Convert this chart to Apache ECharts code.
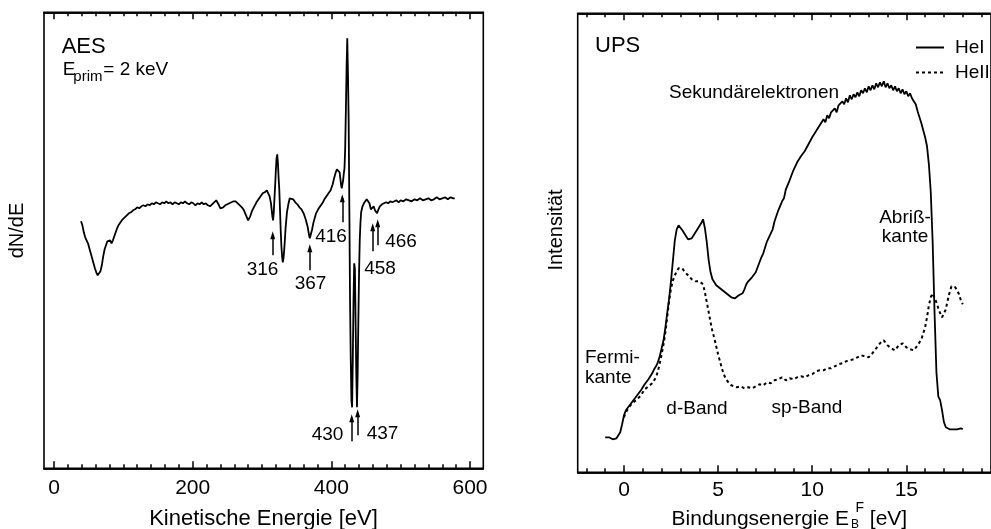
<!DOCTYPE html>
<html><head><meta charset="utf-8">
<script src="https://cdn.jsdelivr.net/npm/echarts@6/dist/echarts.min.js"></script>
<style>html,body{margin:0;padding:0;background:#fff}#c{width:991px;height:529px}</style>
</head><body><div id="c"></div>
<script>
// ---------- data ----------
// AES: [kinetic energy eV, dN/dE (arb. units)]
const aesSpectrum = [[39,247],[41,243],[43,236],[45,231],[47,229],[49,225],[51,220],[53,215],[55,210],[57,205],[59,200],[61,196],[63,193],[65,193],[67,197],[69,203],[71,212],[73,219],[75,223],[77,227],[79,229],[81,228],[83,225],[85,228],[87,232],[89,236],[91,240],[93,243],[96,246],[99,249],[102,251],[105,253],[108,255],[111,256],[114,258],[117,259],[120,261],[123,260],[126,262],[129,263],[132,262],[135,264],[138,263],[141,265],[144,264],[147,266],[150,265],[153,264],[156,266],[159,265],[162,267],[165,265],[168,266],[171,264],[174,266],[177,265],[180,264],[183,266],[186,265],[189,267],[192,265],[195,264],[198,266],[201,265],[204,263],[207,265],[210,264],[213,266],[216,264],[219,265],[222,263],[225,262],[228,264],[231,266],[234,268],[236,267],[238,263],[240,260],[242,258],[244,261],[247,263],[250,264],[253,265],[256,266],[259,267],[262,267],[265,265],[268,263],[271,261],[274,258],[277,253],[280,248],[283,252],[286,258],[289,262],[292,266],[295,269],[298,272],[301,275],[304,276],[307,278],[309,276],[311,272],[313,265],[315,252],[316,248],[317,256],[318,270],[319,283],[320,298],[321,310],[322,314],[323,305],[324,290],[325,278],[326,258],[327,238],[328,222],[329,212],[330,206],[331,210],[332,218],[333,228],[334,240],[336,256],[338,264],[340,270],[342,270],[345,269],[348,266],[351,264],[354,261],[357,259],[360,255],[363,249],[366,241],[368,233],[369,230],[370,232],[372,238],[374,245],[376,250],[378,255],[381,259],[384,262],[387,265],[390,269],[393,272],[396,275],[399,278],[402,284],[404,290],[406,295],[408,299],[410,301],[412,296],[413,290],[414,284],[415,280],[416,282],[417,288],[418,295],[419,300],[420,320],[421,358],[422,400],[423,430],[424,395],[425,348],[426,260],[427,168],[428,110],[429,68],[430,61],[431,110],[432,168],[433,205],[434,200],[435,148],[436,95],[437,61],[438,95],[439,148],[440,195],[441,228],[442,245],[443,256],[445,262],[447,265],[449,267],[451,269],[453,270],[455,265],[457,259],[458,257],[459,259],[461,262],[463,258],[465,256],[466,255],[468,259],[470,262],[473,264],[476,265],[479,266],[482,265],[485,267],[488,266],[491,267],[494,268],[497,266],[500,268],[504,267],[508,269],[512,268],[516,267],[520,269],[524,268],[528,270],[532,268],[536,269],[540,270],[544,268],[548,269],[552,271],[556,269],[560,270],[564,271],[568,269],[572,271],[576,270],[578,270]];

// UPS HeI: [binding energy eV, intensity]
const upsHeI = [[-1.0,35],[-0.9,34],[-0.8,35],[-0.7,34],[-0.6,33],[-0.5,34],[-0.4,34],[-0.3,36],[-0.2,40],[-0.1,48],[0.0,57],[0.1,62],[0.2,64],[0.3,67],[0.4,69],[0.5,72],[0.6,74],[0.7,77],[0.8,79],[0.9,82],[1.0,85],[1.1,88],[1.2,90],[1.3,93],[1.4,96],[1.5,99],[1.6,103],[1.7,106],[1.8,110],[1.9,116],[2.0,124],[2.1,132],[2.2,145],[2.3,160],[2.4,174],[2.5,192],[2.6,212],[2.7,232],[2.8,243],[2.9,247],[3.0,245],[3.1,242],[3.2,239],[3.3,236],[3.4,233],[3.5,231],[3.6,234],[3.7,237],[3.8,240],[3.9,243],[4.0,246],[4.1,249],[4.2,253],[4.3,244],[4.4,230],[4.5,212],[4.6,200],[4.7,193],[4.8,190],[4.9,187],[5.0,186],[5.1,184],[5.2,182],[5.3,181],[5.4,180],[5.5,178],[5.6,177],[5.7,175],[5.8,176],[5.9,174],[6.0,176],[6.1,177],[6.2,176],[6.3,179],[6.4,183],[6.5,188],[6.6,191],[6.7,193],[6.8,195],[6.9,197],[7.0,200],[7.1,205],[7.2,210],[7.3,215],[7.4,219],[7.5,225],[7.6,231],[7.7,233],[7.8,239],[7.9,243],[8.0,251],[8.1,253],[8.2,262],[8.3,264],[8.4,271],[8.5,274],[8.6,283],[8.7,282],[8.8,292],[8.9,293],[9.0,302],[9.1,300],[9.2,310],[9.3,309],[9.4,316],[9.5,314],[9.6,321],[9.7,319],[9.8,328],[9.9,329],[10.0,335],[10.1,334],[10.2,341],[10.3,340],[10.4,347],[10.5,346],[10.6,353],[10.7,350],[10.8,357],[10.9,354],[11.0,360],[11.1,358],[11.2,364],[11.3,360],[11.4,367],[11.5,365],[11.6,371],[11.7,368],[11.8,374],[11.9,370],[12.0,377],[12.1,373],[12.2,378],[12.3,375],[12.4,380],[12.5,376],[12.6,382],[12.7,379],[12.8,384],[12.9,380],[13.0,386],[13.1,382],[13.2,387],[13.3,383],[13.4,389],[13.5,385],[13.6,390],[13.7,386],[13.8,391],[13.9,385],[14.0,389],[14.1,384],[14.2,387],[14.3,382],[14.4,386],[14.5,381],[14.6,384],[14.7,379],[14.8,383],[14.9,378],[15.0,381],[15.1,376],[15.2,379],[15.3,374],[15.4,376],[15.5,368],[15.6,361],[15.7,355],[15.8,349],[15.9,342],[16.0,335],[16.1,326],[16.2,308],[16.3,280],[16.4,230],[16.5,160],[16.6,100],[16.7,76],[16.8,72],[16.9,62],[17.0,50],[17.1,45],[17.2,44],[17.3,43],[17.4,44],[17.5,43],[17.6,44],[17.7,43],[17.8,43],[17.9,44],[18.0,43]];

// UPS HeII: [binding energy eV, intensity]
const upsHeII = [[0.0,55],[0.1,60],[0.2,63],[0.3,66],[0.4,68],[0.5,70],[0.6,72],[0.7,73],[0.8,74],[0.9,77],[1.0,80],[1.1,83],[1.2,85],[1.3,86],[1.4,88],[1.5,89],[1.6,91],[1.7,95],[1.8,101],[1.9,109],[2.0,118],[2.1,128],[2.2,140],[2.3,156],[2.4,172],[2.5,184],[2.6,192],[2.7,197],[2.8,201],[2.9,204],[3.0,205],[3.1,204],[3.2,201],[3.3,199],[3.4,197],[3.5,195],[3.6,193],[3.7,192],[3.8,191],[3.9,190],[4.0,191],[4.1,193],[4.2,188],[4.3,180],[4.4,170],[4.5,160],[4.6,150],[4.7,141],[4.8,134],[4.9,126],[5.0,118],[5.1,111],[5.2,104],[5.3,98],[5.4,94],[5.5,91],[5.6,89],[5.7,87],[5.8,86],[6.0,85],[6.2,86],[6.4,84],[6.6,85],[6.8,84],[7.0,86],[7.2,88],[7.4,87],[7.6,90],[7.8,89],[8.0,92],[8.2,93],[8.4,95],[8.6,92],[8.8,94],[9.0,93],[9.2,95],[9.4,96],[9.6,95],[9.8,97],[10.0,98],[10.2,101],[10.4,102],[10.6,102],[10.8,104],[11.0,104],[11.2,106],[11.4,108],[11.6,109],[11.8,111],[12.0,112],[12.2,113],[12.4,115],[12.6,117],[12.8,116],[13.0,115],[13.2,119],[13.4,124],[13.6,129],[13.8,132],[14.0,127],[14.2,124],[14.4,122],[14.6,127],[14.8,129],[15.0,125],[15.2,123],[15.4,122],[15.6,127],[15.8,133],[16.0,145],[16.1,155],[16.2,167],[16.3,175],[16.4,179],[16.5,177],[16.6,170],[16.7,164],[16.8,159],[16.9,155],[17.0,157],[17.1,163],[17.2,172],[17.3,180],[17.4,186],[17.5,187],[17.6,185],[17.7,182],[17.8,178],[17.9,172],[18.0,168]];

// AES peak markers: energy, arrow from/to (signal units), label
const aesPeakEnergy = [315.5, 369, 415.8, 459.7, 466.9, 429.4, 438];
const aesPeakLabel  = ['316','367','416','458','466','430','437'];
const aesArrowFrom  = [213, 198, 246, 217, 223, 27, 33];
const aesArrowTo    = [233, 220, 270, 241, 245, 50, 55];

// tick values
const aesMajorTicks = [0, 200, 400, 600];
const aesMinorTicks = [0,20,40,60,80,100,120,140,160,180,200,220,240,260,280,300,320,340,360,380,400,420,440,460,480,500,520,540,560,580,600];
const upsMajorTicks = [0, 5, 10, 15];
const upsMinorTicks = [-2,-1,0,1,2,3,4,5,6,7,8,9,10,11,12,13,14,15,16,17,18,19];
const seriesNames = ['HeI', 'HeII'];

// ---------- chart ----------
const FONT = '"Liberation Sans", Arial, Helvetica, sans-serif';
const chart = echarts.init(document.getElementById('c'), null, {renderer: 'canvas'});

const AES_MIN = -14.4, AES_MAX = 619.2;
const UPS_MIN = -2.46, UPS_MAX = 19.5;

function mkX(grid, min, max, vals, len, labelMargin, pos) {
  return {
    type: 'value', gridIndex: grid, min: min, max: max, position: pos,
    axisLine: {show: true, onZero: false, lineStyle: {color: '#000', width: 1.6}},
    splitLine: {show: false},
    axisTick: {show: true, inside: true, length: len, customValues: vals, lineStyle: {color: '#000', width: 1.5}},
    axisLabel: {show: !!labelMargin, customValues: vals, color: '#000', fontSize: 21, fontFamily: FONT,
                verticalAlign: 'middle', margin: labelMargin || 8}
  };
}

function T(x, y, text, size, align, rot) {
  const el = {type: 'text', x: x, y: y, silent: true,
    style: {text: text, fill: '#000', fontSize: size, fontFamily: FONT,
            align: align || 'left', textAlign: align || 'left',
            verticalAlign: 'middle', textVerticalAlign: 'middle'}};
  if (rot) el.rotation = rot;
  return el;
}

const labelPos = [[262.5,270],[310.5,284],[331,236.5],[380,269],[401,241.5],[327.5,434.5],[382.5,433.5]];

const graphics = [
  T(61.7, 46.5, 'AES', 22),
  T(62.7, 70, 'E', 19),
  T(73.3, 76.6, 'prim', 15),
  T(103.3, 70, '= 2 keV', 19),
  T(17.5, 230.5, 'dN/dE', 20, 'center', Math.PI / 2),
  T(263.5, 519, 'Kinetische Energie [eV]', 22, 'center'),
  T(595, 45.8, 'UPS', 22),
  T(754, 92.5, 'Sekundärelektronen', 19, 'center'),
  T(905, 217.5, 'Abriß-', 19, 'center'),
  T(905, 236.7, 'kante', 19, 'center'),
  T(585, 357.5, 'Fermi-', 19),
  T(585, 377.5, 'kante', 19),
  T(697, 409, 'd-Band', 19, 'center'),
  T(807, 407.5, 'sp-Band', 19, 'center'),
  T(556.7, 230, 'Intensität', 20, 'center', Math.PI / 2),
  T(849, 519, 'Bindungsenergie E', 21, 'right'),
  T(851, 524.5, 'B', 12),
  T(855.5, 508.5, 'F', 14),
  T(864, 519, ' [eV]', 21)
];
aesPeakLabel.forEach((t, i) => graphics.push(T(labelPos[i][0], labelPos[i][1], t, 19, 'center')));

const option = {
  animation: false,
  backgroundColor: '#fff',
  textStyle: {fontFamily: FONT, color: '#000'},
  grid: [
    {left: 44, top: 12.3, width: 439.3, height: 456, show: true, borderColor: '#000', borderWidth: 1.6, backgroundColor: 'transparent'},
    {left: 577.7, top: 13.3, width: 425.1, height: 459, show: true, borderColor: '#000', borderWidth: 1.6, backgroundColor: 'transparent'}
  ],
  xAxis: [
    mkX(0, AES_MIN, AES_MAX, aesMajorTicks, 7, 19.5, 'bottom'),
    mkX(0, AES_MIN, AES_MAX, aesMinorTicks, 4, 0, 'bottom'),
    mkX(0, AES_MIN, AES_MAX, aesMajorTicks, 7, 0, 'top'),
    mkX(0, AES_MIN, AES_MAX, aesMinorTicks, 4, 0, 'top'),
    mkX(1, UPS_MIN, UPS_MAX, upsMajorTicks, 7, 18, 'bottom'),
    mkX(1, UPS_MIN, UPS_MAX, upsMinorTicks, 4, 0, 'bottom'),
    mkX(1, UPS_MIN, UPS_MAX, upsMajorTicks, 7, 0, 'top'),
    mkX(1, UPS_MIN, UPS_MAX, upsMinorTicks, 4, 0, 'top')
  ],
  yAxis: [
    {type: 'value', gridIndex: 0, min: 0, max: 456, show: false},
    {type: 'value', gridIndex: 1, min: 0, max: 459, show: false}
  ],
  legend: {
    data: seriesNames, orient: 'vertical', left: 915, top: 38, itemWidth: 28, itemHeight: 14, itemGap: 6,
    padding: 0, selectedMode: false,
    itemStyle: {opacity: 0},
    textStyle: {fontSize: 19, color: '#000', fontFamily: FONT, padding: [0, 0, 0, 6]}
  },
  graphic: graphics,
  series: [
    {
      type: 'line', name: 'AES', xAxisIndex: 0, yAxisIndex: 0, data: aesSpectrum,
      showSymbol: false, symbol: 'none', color: '#000', lineStyle: {color: '#000', width: 1.8}, silent: true,
      markLine: {
        silent: true, symbol: ['none', 'triangle'], symbolSize: [5, 8], animation: false,
        lineStyle: {color: '#000', width: 1.5, type: 'solid'}, label: {show: false},
        emphasis: {disabled: true},
        data: aesPeakEnergy.map((e, i) => [{coord: [e, aesArrowFrom[i]]}, {coord: [e, aesArrowTo[i]]}])
      }
    },
    {
      type: 'line', name: seriesNames[0], xAxisIndex: 4, yAxisIndex: 1, data: upsHeI,
      showSymbol: false, symbol: 'none', color: '#000', itemStyle: {color: '#000'},
      lineStyle: {color: '#000', width: 1.8}, silent: true
    },
    {
      type: 'line', name: seriesNames[1], xAxisIndex: 4, yAxisIndex: 1, data: upsHeII,
      showSymbol: false, symbol: 'none', color: '#000', itemStyle: {color: '#000'},
      lineStyle: {color: '#000', width: 2, type: [3, 3]}, silent: true
    }
  ]
};
chart.setOption(option);
</script></body></html>
